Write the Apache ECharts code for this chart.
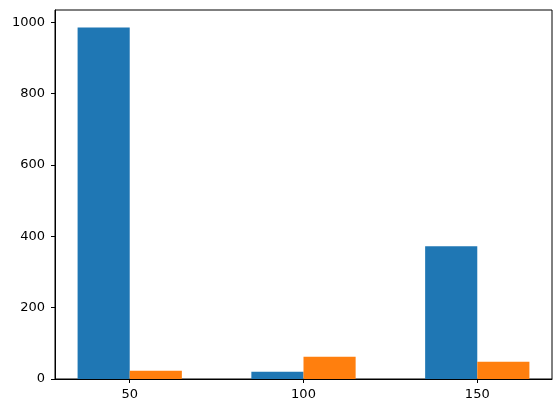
<!DOCTYPE html>
<html lang="en">

<head>
    <meta charset="UTF-8">
    <title>Histogram</title>
    <script src="https://cdn.jsdelivr.net/npm/echarts@6/dist/echarts.min.js"></script>
</head>

<body style="margin:0">

    <div id="HistChart" style="width:560px;height:413px;"></div>
    <script>

        // bin centres and counts for the two datasets
        var binCenters = [50, 100, 150]
        var blueCounts = [985, 20, 372]
        var orangeCounts = [23, 62, 48]
        var xTicks = [50, 100, 150]
        var yTicks = [0, 200, 400, 600, 800, 1000]

        var halfWidth = 15

        function toBars(counts, offset) {
            return counts.map(function (c, i) {
                var x0 = binCenters[i] + offset
                return [x0, x0 + halfWidth, c]
            })
        }

        function renderBar(params, api) {
            var p0 = api.coord([api.value(0), api.value(2)])
            var p1 = api.coord([api.value(1), 0])
            return {
                type: 'rect',
                shape: { x: p0[0], y: p0[1], width: p1[0] - p0[0], height: p1[1] - p0[1] },
                style: { fill: api.visual('color'), stroke: null, lineWidth: 0 }
            }
        }

        function newSeries(name, color, inpData) {
            return {
                name: name,
                type: 'custom',
                renderItem: renderBar,
                itemStyle: { color: color, borderWidth: 0 },
                encode: { x: [0, 1], y: 2 },
                data: inpData
            }
        }

        var font = { fontFamily: 'DejaVu Sans', fontSize: 13, color: '#000' }

        var option = {
            animation: false,
            grid: {
                left: 55, right: 8, top: 10, bottom: 34,
                show: true, borderColor: '#000', borderWidth: 1
            },
            xAxis: {
                type: 'value',
                min: 28.5,
                max: 171.5,
                axisLine: { show: true, onZero: false, lineStyle: { color: '#000' } },
                axisTick: { show: true, customValues: xTicks, length: 4, lineStyle: { color: '#000' } },
                axisLabel: Object.assign({ customValues: xTicks, margin: 9, formatter: String }, font),
                splitLine: { show: false }
            },
            yAxis: {
                type: 'value',
                min: 0,
                max: 1034,
                axisLine: { show: true, lineStyle: { color: '#000' } },
                axisTick: { show: true, customValues: yTicks, length: 4, lineStyle: { color: '#000' } },
                axisLabel: Object.assign({ customValues: yTicks, margin: 10, formatter: String }, font),
                splitLine: { show: false }
            },
            series: [
                newSeries('a', '#1f77b4', toBars(blueCounts, -halfWidth)),
                newSeries('b', '#ff7f0e', toBars(orangeCounts, 0))
            ]
        }

        var chart = echarts.init(document.getElementById('HistChart'))
        chart.setOption(option)
    </script>
</body>

</html>
